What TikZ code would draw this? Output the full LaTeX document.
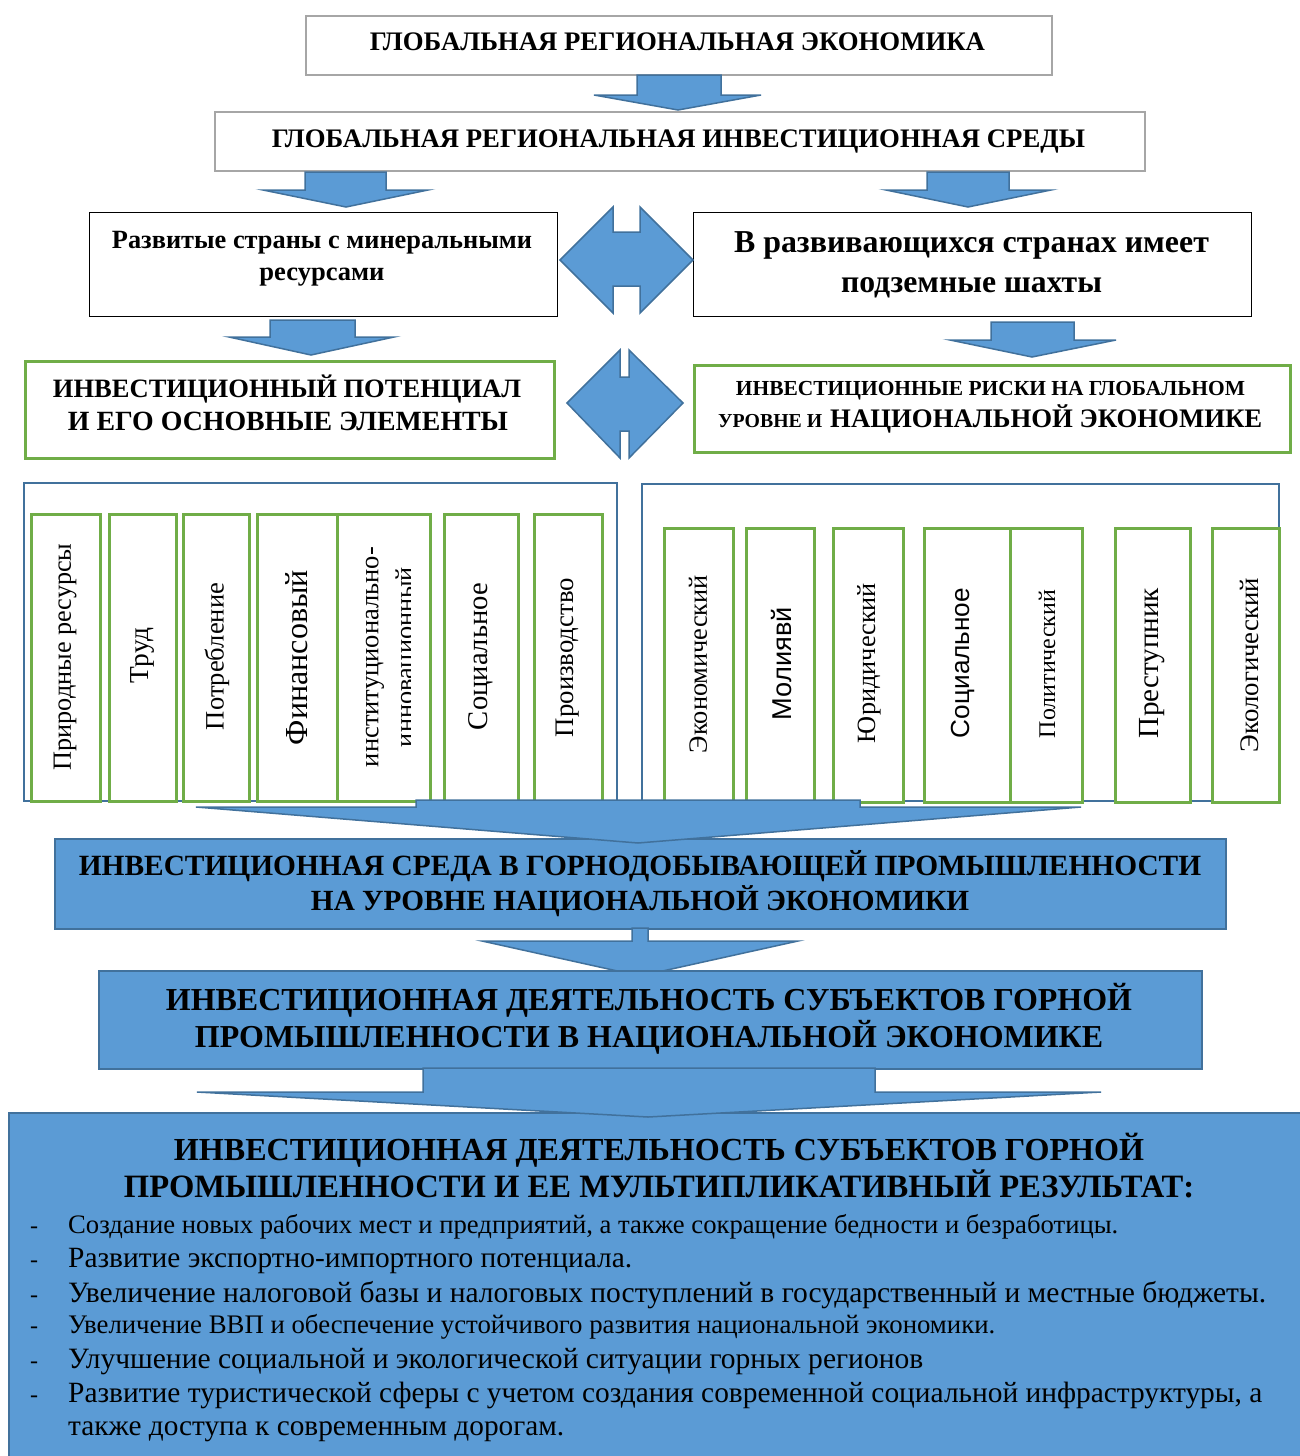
\documentclass[tikz,border=0pt]{standalone}
\usepackage{fontspec}
\setmainfont{Liberation Serif}
\setsansfont{Liberation Sans}
\usepackage{graphicx}
\definecolor{bfill}{HTML}{5B9BD5}
\definecolor{bdark}{HTML}{41719C}
\definecolor{grn}{HTML}{70AD47}
\definecolor{boxgray}{HTML}{A6A6A6}
\newcommand\fitw[2]{\resizebox{#1pt}{!}{#2}}
\tikzset{
  graybox/.style={draw=boxgray, line width=2pt, fill=white, inner sep=0pt, anchor=north west},
  blackbox/.style={draw=black, line width=1.2pt, fill=white, inner sep=0pt, anchor=north west},
  greenbox/.style={draw=grn, line width=2.5pt, fill=white, inner sep=0pt, anchor=north west},
  containerbox/.style={draw=bdark, line width=2pt, inner sep=0pt, anchor=north west},
  bluebox/.style={draw=bdark, line width=2pt, fill=bfill, inner sep=0pt, anchor=north west},
  barrow/.style={draw=bdark, line width=1.5pt, fill=bfill, line join=miter},
  txt/.style={inner sep=0pt, anchor=base},
  ltxt/.style={inner sep=0pt, anchor=base west},
  vtxt/.style={inner sep=0pt, rotate=90, anchor=center},
}
% block arrow: shaft left, shaft right, y top, y base, head left, head right, tip x, tip y
\newcommand\blkarrow[8]{%
  \draw[barrow] (#1,#3) -- (#2,#3) -- (#2,#4) -- (#6,#4) -- (#7,#8) -- (#5,#4) -- (#1,#4) -- cycle;}
\begin{document}
\begin{tikzpicture}[x=1pt,y=-1pt]
\useasboundingbox (0,0) rectangle (1300,1456);

% ---- top boxes
\node[graybox, minimum width=746pt, minimum height=59pt] (b1) at (305,15) {};
\node[txt] (t1) at (677.5,50) {\fitw{615}{\bfseries ГЛОБАЛЬНАЯ РЕГИОНАЛЬНАЯ ЭКОНОМИКА}};
\blkarrow{637}{721}{75}{95}{594}{761}{678}{110}
\node[graybox, minimum width=930pt, minimum height=59pt] (b2) at (214,111) {};
\node[txt] (t2) at (678.5,147) {\fitw{813}{\bfseries ГЛОБАЛЬНАЯ РЕГИОНАЛЬНАЯ ИНВЕСТИЦИОННАЯ СРЕДЫ}};

\blkarrow{305}{386}{172}{190}{263}{428}{346}{207}
\blkarrow{927}{1009}{172}{190}{886}{1051}{968}{207}

% ---- level 3
\node[blackbox, minimum width=468pt, minimum height=104pt] (b3l) at (89,212) {};
\node[txt] (t3l1) at (322,248) {\fitw{420}{\bfseries Развитые страны с минеральными}};
\node[txt] (t3l2) at (322,280) {\fitw{125}{\bfseries ресурсами}};
\node[blackbox, minimum width=558pt, minimum height=104pt] (b3r) at (693,212) {};
\node[txt] (t3r1) at (971.5,252) {\fitw{475}{\bfseries В развивающихся странах имеет}};
\node[txt] (t3r2) at (971.5,292) {\fitw{261}{\bfseries подземные шахты}};

\draw[barrow] (560,260) -- (613,207) -- (613,232) -- (640,232) -- (640,207) -- (693,260)
  -- (640,313) -- (640,286) -- (613,286) -- (613,313) -- cycle;

\blkarrow{270}{355}{320}{337}{229}{394}{311}{355}
\blkarrow{991}{1074}{322}{340}{950}{1116}{1032}{357}

% ---- level 4
\node[greenbox, minimum width=529pt, minimum height=97pt] (b4l) at (24,360) {};
\node[txt] (t4l1) at (287,397) {\fitw{468}{\bfseries ИНВЕСТИЦИОННЫЙ ПОТЕНЦИАЛ}};
\node[txt] (t4l2) at (288,430) {\fitw{440}{\bfseries И ЕГО ОСНОВНЫЕ ЭЛЕМЕНТЫ}};
\node[greenbox, minimum width=596pt, minimum height=87pt] (b4r) at (693,364) {};
\node[txt] (t4r1) at (990.5,395) {\fitw{509}{\bfseries ИНВЕСТИЦИОННЫЕ РИСКИ НА ГЛОБАЛЬНОМ}};
\node[ltxt] (t4r2a) at (718,427) {\fitw{104}{\bfseries УРОВНЕ И}};
\node[ltxt] (t4r2b) at (830,427) {\fitw{432}{\bfseries НАЦИОНАЛЬНОЙ ЭКОНОМИКЕ}};

\draw[barrow] (567,403) -- (620,350) -- (620,377) -- (629,377) -- (629,350) -- (683,403)
  -- (629,458) -- (629,431) -- (620,431) -- (620,458) -- cycle;

% ---- containers
\node[containerbox, minimum width=593pt, minimum height=318pt] (cl) at (23,482) {};
\node[containerbox, minimum width=637pt, minimum height=317pt] (cr) at (641,483) {};

% left elements
\node[greenbox, minimum width=69pt, minimum height=287pt] (g1) at (30,513) {};
\node[greenbox, minimum width=67pt, minimum height=287pt] (g2) at (108,513) {};
\node[greenbox, minimum width=66pt, minimum height=287pt] (g3) at (182,513) {};
\node[greenbox, minimum width=80pt, minimum height=287pt] (g4) at (256,513) {};
\node[greenbox, minimum width=93pt, minimum height=287pt] (g5) at (336,513) {};
\node[greenbox, minimum width=74pt, minimum height=287pt] (g6) at (443,513) {};
\node[greenbox, minimum width=68pt, minimum height=287pt] (g7) at (533,513) {};
\node[vtxt] (v1) at (65,657) {\fitw{227}{Природные ресурсы}};
\node[vtxt] (v2) at (142,655.5) {\fitw{55}{Труд}};
\node[vtxt] (v3) at (217,656.5) {\fitw{147}{Потребление}};
\node[vtxt] (v4) at (297,657.5) {\fitw{175}{Финансовый}};
\node[vtxt] (v5a) at (375,657) {\fitw{220}{институционально-}};
\begin{scope}
  \clip (337,514) rectangle (410,799);
  \node[vtxt] (v5b) at (407,657) {\fitw{180}{инновационный}};
\end{scope}
\node[vtxt] (v6) at (481,656.5) {\fitw{147}{Социальное}};
\node[vtxt] (v7) at (568,657.5) {\fitw{159}{Производство}};

% right elements
\node[greenbox, minimum width=69pt, minimum height=274pt] (r1) at (663,527) {};
\node[greenbox, minimum width=68pt, minimum height=274pt] (r2) at (745,527) {};
\node[greenbox, minimum width=70pt, minimum height=274pt] (r3) at (832,527) {};
\node[greenbox, minimum width=86pt, minimum height=274pt] (r4) at (923,527) {};
\node[greenbox, minimum width=72pt, minimum height=274pt] (r5) at (1009,527) {};
\node[greenbox, minimum width=75pt, minimum height=274pt] (r6) at (1114,527) {};
\node[greenbox, minimum width=67pt, minimum height=274pt] (r7) at (1211,527) {};
\node[vtxt] (w1) at (698,664) {\fitw{178}{Экономический}};
\node[vtxt] (w2) at (782,663.5) {\fitw{113}{\sffamily Молиявй}};
\node[vtxt] (w3) at (869,663) {\fitw{160}{Юридический}};
\node[vtxt] (w4) at (963,663) {\fitw{150}{\sffamily Социальное}};
\node[vtxt] (w5) at (1047,664) {\fitw{148}{Политический}};
\node[vtxt] (w6) at (1152,663) {\fitw{150}{Преступник}};
\node[vtxt] (w7) at (1249,665) {\fitw{174}{Экологический}};

% ---- level 5
\node[bluebox, minimum width=1171pt, minimum height=90pt] (b5) at (54,838) {};
\blkarrow{416}{860}{800}{807}{196}{1081}{638}{843}
\node[txt] (t5a) at (640,875) {\fitw{1122}{\bfseries ИНВЕСТИЦИОННАЯ СРЕДА В ГОРНОДОБЫВАЮЩЕЙ ПРОМЫШЛЕННОСТИ}};
\node[txt] (t5b) at (640,910) {\fitw{658}{\bfseries НА УРОВНЕ НАЦИОНАЛЬНОЙ ЭКОНОМИКИ}};

\blkarrow{632}{648}{928}{941}{482}{798}{640}{976}

% ---- level 6
\node[bluebox, minimum width=1103pt, minimum height=98pt] (b6) at (98,970) {};
\node[txt] (t6a) at (649,1010) {\fitw{966}{\bfseries ИНВЕСТИЦИОННАЯ ДЕЯТЕЛЬНОСТЬ СУБЪЕКТОВ ГОРНОЙ}};
\node[txt] (t6b) at (649,1047) {\fitw{908}{\bfseries ПРОМЫШЛЕННОСТИ В НАЦИОНАЛЬНОЙ ЭКОНОМИКЕ}};

% ---- level 7
\node[bluebox, minimum width=1300pt, minimum height=360pt] (b7) at (8,1112) {};
\blkarrow{423}{875}{1068}{1092}{197}{1101}{648}{1117}
\node[txt] (t7a) at (659,1160) {\fitw{970}{\bfseries ИНВЕСТИЦИОННАЯ ДЕЯТЕЛЬНОСТЬ СУБЪЕКТОВ ГОРНОЙ}};
\node[txt] (t7b) at (659,1197) {\fitw{1070}{\bfseries ПРОМЫШЛЕННОСТИ И ЕЕ МУЛЬТИПЛИКАТИВНЫЙ РЕЗУЛЬТАТ:}};

\foreach \yy/\nm in {1233/d1,1267/d2,1302/d3,1333/d4,1368/d5,1402/d6}
  \node[ltxt] (\nm) at (30,\yy) {\fontsize{24}{28}\selectfont -};
\node[ltxt] (l1) at (68,1233) {\fitw{1050}{Создание новых рабочих мест и предприятий, а также сокращение бедности и безработицы.}};
\node[ltxt] (l2) at (68,1267) {\fitw{564}{Развитие экспортно-импортного потенциала.}};
\node[ltxt] (l3) at (68,1302) {\fitw{1198}{Увеличение налоговой базы и налоговых поступлений в государственный и местные бюджеты.}};
\node[ltxt] (l4) at (68,1333) {\fitw{927}{Увеличение ВВП и обеспечение устойчивого развития национальной экономики.}};
\node[ltxt] (l5) at (68,1368) {\fitw{855}{Улучшение социальной и экологической ситуации горных регионов}};
\node[ltxt] (l6) at (68,1402) {\fitw{1194}{Развитие туристической сферы с учетом создания современной социальной инфраструктуры, а}};
\node[ltxt] (l7) at (68,1435) {\fitw{496}{также доступа к современным дорогам.}};
\end{tikzpicture}
\end{document}
